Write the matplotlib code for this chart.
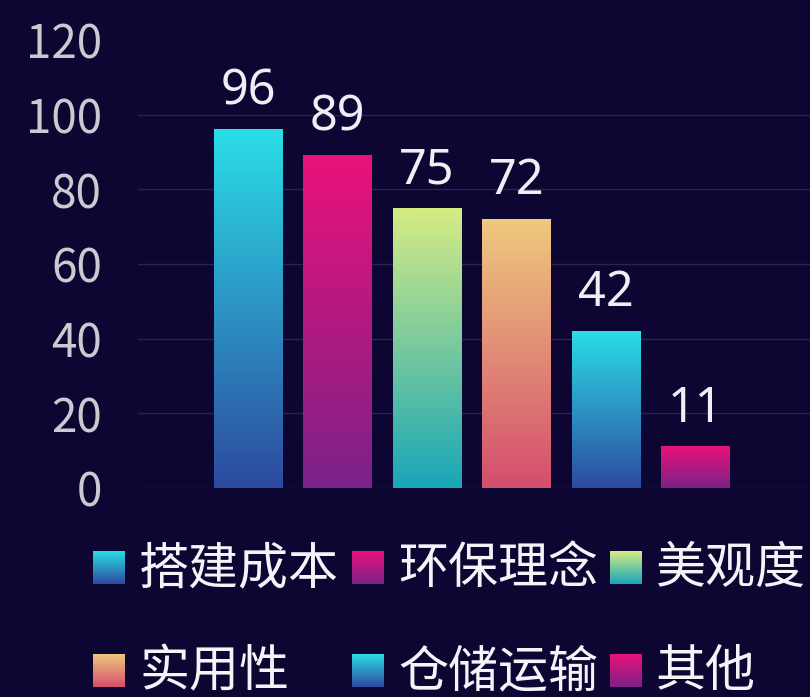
import matplotlib
matplotlib.use("Agg")
from matplotlib import pyplot as plt
import numpy as np

plt.rcParams['font.family'] = ['Noto Sans CJK SC', 'DejaVu Sans']

# data
categories = ["搭建成本", "环保理念", "美观度", "实用性", "仓储运输", "其他"]
values = [96, 89, 75, 72, 42, 11]
yticks = [0, 20, 40, 60, 80, 100, 120]

# gradient (top colour, bottom colour) per bar
top_colors = ["#2adde6", "#e9127a", "#d6ec84", "#efc97f", "#2adde6", "#e9127a"]
bottom_colors = ["#2e4aa0", "#7b2288", "#18a6b8", "#d44e6e", "#2e4aa0", "#7b2288"]

bg = "#0d0532"


def hex_rgb(h):
    h = h.lstrip("#")
    return np.array([int(h[i:i + 2], 16) / 255 for i in (0, 2, 4)])


def gradient(top, bottom, n=256):
    t = np.linspace(0, 1, n)[:, None]
    col = hex_rgb(top) * (1 - t) + hex_rgb(bottom) * t
    return col[:, None, :]


fig = plt.figure(figsize=(8.1, 6.97), dpi=100, facecolor=bg)
ax = fig.add_axes([138 / 810, 209 / 697, 672 / 810, 448 / 697], facecolor=bg)

x = np.arange(len(categories))
bars = ax.bar(x, values, width=0.77, color="none", zorder=2)
for i, p in enumerate(bars):
    x0 = p.get_x()
    w = p.get_width()
    h = p.get_height()
    ax.imshow(gradient(top_colors[i], bottom_colors[i]), extent=(x0, x0 + w, 0, h),
              aspect="auto", origin="upper", zorder=2, interpolation="bilinear")
    ax.annotate(str(values[i]), (x[i], h), xytext=(0, 18), textcoords="offset points",
                ha="center", va="baseline", fontsize=35, color="#eeeef4",
                family=['Noto Sans', 'DejaVu Sans'])

ax.set_xlim(-1.229, 6.279)
ax.set_ylim(0, 120)
ax.set_yticks(yticks)
ax.set_xticks([])
ax.tick_params(axis="y", length=0, pad=26, labelsize=33, labelcolor="#cacad0")
ax.grid(axis="y", color="#2a2352", linewidth=1.0, zorder=0)
ax.get_ygridlines()[-1].set_visible(False)
for s in ax.spines.values():
    s.set_visible(False)

# legend, drawn by hand in pixel coordinates
lax = fig.add_axes([0, 0, 1, 1], facecolor="none")
lax.axis("off")
col_x = [93, 352, 610]
row_y = [697 - 568, 697 - 671]
for i, name in enumerate(categories):
    cx = col_x[i % 3]
    cy = row_y[i // 3]
    lax.imshow(gradient(top_colors[i], bottom_colors[i]), extent=(cx, cx + 32, cy - 16.5, cy + 16.5),
               aspect="auto", origin="upper", interpolation="bilinear")
    lax.text(cx + 46, cy - 1, name, fontsize=36, color="#f4f4f8", va="center", ha="left")
lax.set_xlim(0, 810)
lax.set_ylim(0, 697)

fig.savefig("out.png", dpi=100, facecolor=bg)
